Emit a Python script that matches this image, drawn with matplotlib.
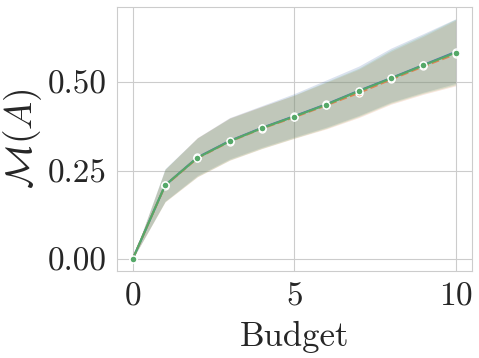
import matplotlib
matplotlib.use("Agg")
import matplotlib.pyplot as plt
import seaborn as sns

# budget steps
budget = [0, 1, 2, 3, 4, 5, 6, 7, 8, 9, 10]

# mean curves for the three runs (nearly overlapping)
mean_a = [0.0, 0.208, 0.287, 0.334, 0.371, 0.404, 0.438, 0.476, 0.512, 0.549, 0.586]
mean_b = [0.0, 0.207, 0.285, 0.332, 0.369, 0.401, 0.435, 0.470, 0.508, 0.545, 0.580]
mean_c = [0.0, 0.208, 0.286, 0.333, 0.370, 0.403, 0.437, 0.475, 0.511, 0.548, 0.584]

# band limits
low_a = [0.0, 0.163, 0.236, 0.283, 0.316, 0.345, 0.373, 0.406, 0.444, 0.472, 0.497]
high_a = [0.0, 0.255, 0.343, 0.400, 0.434, 0.468, 0.507, 0.546, 0.597, 0.638, 0.680]
low_b = [0.0, 0.161, 0.232, 0.279, 0.312, 0.341, 0.368, 0.400, 0.438, 0.466, 0.490]
high_b = [0.0, 0.253, 0.343, 0.399, 0.432, 0.463, 0.500, 0.537, 0.588, 0.630, 0.676]
low_c = [0.0, 0.162, 0.233, 0.280, 0.313, 0.342, 0.370, 0.403, 0.441, 0.469, 0.493]
high_c = [0.0, 0.254, 0.342, 0.398, 0.431, 0.464, 0.502, 0.540, 0.592, 0.634, 0.679]

sns.set_style("whitegrid")
plt.rcParams["font.family"] = ["cmr10", "DejaVu Serif"]
plt.rcParams["mathtext.fontset"] = "cm"
plt.rcParams["axes.formatter.use_mathtext"] = True

fig, ax = plt.subplots(figsize=(4.79, 3.58), dpi=100)
fig.subplots_adjust(left=0.2436, right=0.9848, top=0.981, bottom=0.2438)

runs = [
    (mean_a, low_a, high_a, "#4C72B0", "-"),
    (mean_b, low_b, high_b, "#DD8452", "--"),
    (mean_c, low_c, high_c, "#55A868", "-"),
]
for mean, low, high, col, ls in runs:
    ax.fill_between(budget, low, high, color=col, alpha=0.2, linewidth=0)
    ax.plot(budget, mean, color=col, linestyle=ls, linewidth=1.5,
            marker="o", markersize=5, markeredgecolor="white", markeredgewidth=1)

ax.set_xticks([0, 5, 10])
ax.set_yticks([0.0, 0.25, 0.5])
ax.set_yticklabels(["0.00", "0.25", "0.50"])
ax.tick_params(labelsize=24, pad=4)
ax.set_xlabel("Budget", fontsize=25, labelpad=8)
ax.set_ylabel(r"$\mathcal{M}(A)$", fontsize=27, labelpad=2)
for s in ax.spines.values():
    s.set_color("#cccccc")

plt.savefig("out.png", dpi=100)
